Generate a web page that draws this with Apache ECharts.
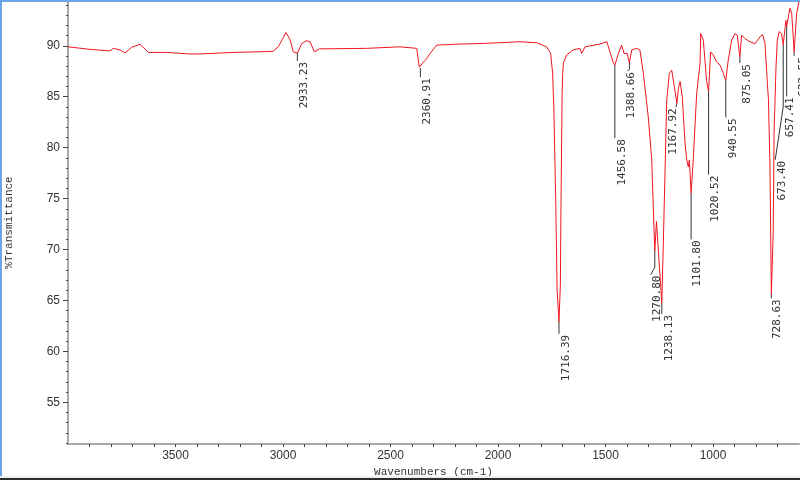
<!DOCTYPE html>
<html>
<head>
<meta charset="utf-8">
<script src="https://cdn.jsdelivr.net/npm/echarts@6/dist/echarts.min.js"></script>
<style>
  html, body { margin: 0; padding: 0; background: #fff; }
  #wrap { position: relative; width: 800px; height: 480px; overflow: hidden; }
  #chart { position: absolute; left: 0; top: 0; width: 800px; height: 480px; }
  .edge { position: absolute; pointer-events: none; }
</style>
</head>
<body>
<div id="wrap">
  <div id="chart"></div>
  <div class="edge" style="left:0;top:0;width:2px;height:478px;background:#6aa6e8;"></div>
  <div class="edge" style="left:0;top:0;width:800px;height:2px;background:#6aa6e8;"></div>
  <div class="edge" style="left:0;top:476px;width:800px;height:2px;background:#eef0f2;"></div>
  <div class="edge" style="left:0;top:478px;width:800px;height:2px;background:#2b2b2b;"></div>
</div>
<script>
// spectrum (cm-1, %T)
const wavenumbers = [
  4000, 3898, 3805, 3789, 3758, 3735, 3704, 3665, 3626, 3541, 3433, 3386, 3232, 3140, 3047,
  3022, 2986, 2967, 2952, 2933, 2913, 2893, 2874, 2854, 2831, 2611, 2456, 2378, 2366, 2361,
  2347, 2335, 2316, 2285, 2177, 2068, 1898, 1820, 1774, 1755, 1746, 1740, 1731, 1725, 1716.4,
  1710, 1707, 1704, 1702, 1699, 1696, 1681, 1650, 1619, 1611, 1595, 1526, 1494, 1482, 1463,
  1456.6, 1440, 1425, 1414, 1405, 1399, 1389, 1378, 1355, 1340, 1324, 1301, 1285, 1270.8, 1263,
  1238.1, 1231, 1223, 1215, 1203, 1192, 1181, 1168, 1161, 1153, 1143, 1130, 1122, 1115, 1110,
  1101.8, 1092, 1076, 1060, 1057, 1045, 1030, 1020.5, 1011, 999, 983, 967, 952, 940.6, 929,
  913, 898, 887, 875, 867, 851, 828, 805, 781, 769, 758, 747, 742, 735, 728.6,
  720, 716, 707, 701, 692, 681, 673.4, 661, 657.4, 642, 634, 622.5, 611, 600
];
const transmittance = [
  89.9, 89.65, 89.5, 89.75, 89.6, 89.3, 89.85, 90.15, 89.35, 89.35, 89.2, 89.2, 89.35, 89.4, 89.45,
  89.9, 91.3, 90.6, 89.4, 89.3, 90.2, 90.5, 90.4, 89.4, 89.7, 89.75, 89.9, 89.75, 87.9, 87.8,
  88.4, 88.65, 89.25, 90.07, 90.17, 90.23, 90.4, 90.3, 89.9, 89.25, 87.3, 83.7, 74.2, 66.0, 62.9,
  66.5, 74.5, 80.6, 85.0, 87.3, 88.3, 89.1, 89.6, 89.75, 89.25, 89.9, 90.17, 90.4, 89.6, 88.3,
  88.1, 89.25, 90.07, 89.25, 89.1, 89.25, 88.3, 89.6, 89.75, 89.6, 87.3, 83.0, 78.8, 69.8, 72.75,
  64.75, 70.65, 77.8, 84.7, 87.3, 87.6, 86.15, 84.35, 85.8, 86.5, 85.0, 80.4, 78.8, 78.1, 78.8,
  75.5, 78.8, 85.3, 88.3, 91.2, 90.55, 86.6, 85.5, 89.4, 89.1, 88.4, 88.1, 87.3, 86.6, 88.6,
  90.55, 91.2, 91.05, 88.9, 91.05, 90.7, 90.4, 90.2, 90.9, 91.1, 90.2, 86.3, 84.7, 78.1, 65.6,
  71.6, 81.4, 87.9, 90.55, 91.4, 91.2, 90.1, 92.5, 91.9, 93.7, 93.2, 89.4, 93.2, 94.3
];

// labelled peaks
const peakWn = [2933.23, 2360.91, 1716.39, 1456.58, 1388.66, 1270.80, 1238.13, 1167.92,
  1101.80, 1020.52, 940.55, 875.05, 728.63, 673.40, 657.41, 622.55];
const peakT = [89.3, 87.8, 62.9, 88.1, 88.3, 69.8, 64.75, 84.35,
  75.5, 85.5, 86.6, 88.9, 65.6, 90.1, 91.9, 89.4];

// axis labels
const xTickLabels = [3500, 3000, 2500, 2000, 1500, 1000];
const yTickLabels = [55, 60, 65, 70, 75, 80, 85, 90];

// leader line segments (px) and text offset for each peak label
const leaders = [
  [[0, 8]], [[0, 9]], [[0, 12]], [[0, 73]], [[0, 6], [-2, 2]], [[0, 16], [-4, 7]],
  [[0, 11]], [[-1, 4]], [[0, 46]], [[0, 83]], [[0, 37]], [[0, 6]], [[0, 4]],
  [[0, 62], [-8, 53]], [[0, 70]], [[0, 4]]
];
const textDx = [1.5, 1, 2, 2, -1.5, 1, 1.5, -8, 1, 1.5, 2, 2, 0, 1.5, -2, 3];

const xMinorTicks = [];
for (let v = 700; v <= 3900; v += 100) xMinorTicks.push(v);
const yMinorTicks = [];
for (let v = 51; v <= 94; v++) yMinorTicks.push(v);

const spectrum = wavenumbers.map((w, i) => [w, transmittance[i]]);
const peaks = peakWn.map((w, i) => [w, peakT[i]]);

const chart = echarts.init(document.getElementById('chart'));

const axisGray = '#a8a8a8';
const tickDark = '#444';
const plain = v => String(v);

chart.setOption({
  animation: false,
  grid: { left: 68, right: 1, top: 1, bottom: 36, containLabel: false, outerBoundsMode: 'none' },
  xAxis: {
    type: 'value',
    inverse: true,
    min: 600,
    max: 4000,
    name: 'Wavenumbers (cm-1)',
    nameLocation: 'middle',
    nameGap: 15,
    nameTextStyle: { fontFamily: 'Liberation Mono', fontSize: 11, color: '#333' },
    axisLine: { lineStyle: { color: axisGray, width: 2 } },
    axisTick: { customValues: xMinorTicks, length: 3, lineStyle: { color: tickDark } },
    axisLabel: {
      customValues: xTickLabels, margin: 6, formatter: plain,
      fontFamily: 'Liberation Sans', fontSize: 12, color: '#333'
    },
    splitLine: { show: false }
  },
  yAxis: [{
    type: 'value',
    min: 50.9,
    max: 94.4,
    name: '%Transmittance',
    nameLocation: 'middle',
    nameGap: 53,
    nameRotate: 90,
    nameTextStyle: { fontFamily: 'Liberation Mono', fontSize: 11, color: '#333' },
    axisLine: { show: true, lineStyle: { color: axisGray, width: 2 } },
    axisTick: { show: true, customValues: yMinorTicks, length: 2, lineStyle: { color: tickDark } },
    axisLabel: {
      customValues: yTickLabels, margin: 8, formatter: plain,
      fontFamily: 'Liberation Sans', fontSize: 12, color: '#333'
    },
    splitLine: { show: false }
  }, {
    type: 'value',
    min: 50.9,
    max: 94.4,
    position: 'left',
    axisLine: { show: false },
    axisTick: { show: true, customValues: yTickLabels, length: 5, lineStyle: { color: tickDark } },
    axisLabel: { show: false },
    splitLine: { show: false }
  }],
  series: [{
    type: 'line',
    data: spectrum,
    showSymbol: false,
    lineStyle: { color: '#f0141e', width: 1 },
    z: 3
  }, {
    type: 'custom',
    data: peaks,
    clip: false,
    z: 4,
    renderItem: function (params, api) {
      const i = params.dataIndex;
      const p = api.coord([api.value(0), api.value(1)]);
      let x = p[0], y = p[1];
      const pts = [[x, y]];
      leaders[i].forEach(function (s) {
        x += s[0]; y += s[1];
        pts.push([x, y]);
      });
      return {
        type: 'group',
        children: [{
          type: 'polyline',
          shape: { points: pts },
          style: { stroke: '#333', lineWidth: 1, fill: null }
        }, {
          type: 'text',
          x: x + textDx[i],
          y: y + 1,
          rotation: Math.PI / 2,
          style: {
            text: peakWn[i].toFixed(2),
            font: '11px "DejaVu Sans Mono"',
            fill: '#333',
            align: 'right',
            verticalAlign: 'top'
          }
        }]
      };
    }
  }]
});

window.addEventListener('resize', () => chart.resize());
</script>
</body>
</html>
